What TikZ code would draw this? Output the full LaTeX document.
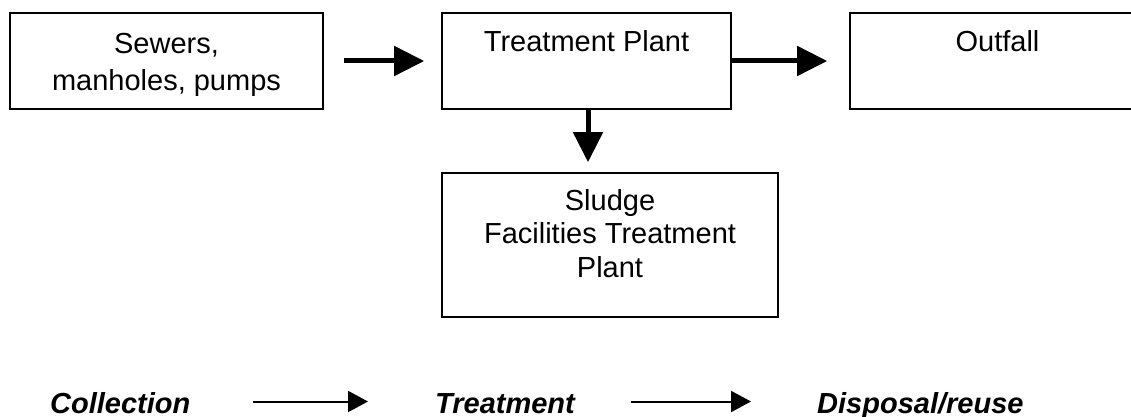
\documentclass[tikz,border=0pt]{standalone}
\usepackage{fontspec}
\setmainfont{Liberation Sans}
\usetikzlibrary{arrows.meta}
\tikzset{
  box/.style={draw=black, line width=1.6pt, inner sep=0pt, font=\fontsize{29}{34}\selectfont},
  bigarrow/.style={line width=5pt, -{Triangle[length=30pt,width=29pt]}},
  smallarrow/.style={line width=2pt, -{Triangle[length=20pt,width=21pt]}},
  stage/.style={inner sep=0pt, anchor=base west, text height=23pt, text depth=0pt,
    font=\fontsize{29}{34}\selectfont\bfseries\itshape}
}
\begin{document}
\begin{tikzpicture}[x=1pt, y=-1pt]
\useasboundingbox (0,0) rectangle (1131,417);
\node[box, minimum width=313pt, minimum height=96pt, text height=21pt, text depth=35pt] (b1) at (166.5,61)
  {\fontsize{29}{37}\selectfont\begin{tabular}[t]{@{}c@{}}Sewers,\\manholes, pumps\end{tabular}};
\node[box, minimum width=289pt, minimum height=96pt, text height=21pt, text depth=39pt] (b2) at (586.5,61) {Treatment Plant};
\node[box, minimum width=295pt, minimum height=96pt, text height=21pt, text depth=39pt] (b3) at (997.5,61) {Outfall};
\node[box, minimum width=336pt, minimum height=144pt, text height=21pt, text depth=91pt] (b4) at (610,245)
  {\fontsize{29}{33.5}\selectfont\begin{tabular}[t]{@{}c@{}}Sludge\\Facilities Treatment\\Plant\end{tabular}};
\draw[bigarrow, shorten <=20pt, shorten >=17pt] (b1.east) -- (b2.west);
\draw[bigarrow, shorten >=22pt] (b2.east) -- (b3.west);
\coordinate (dtop) at ([xshift=1.5pt]b2.south);
\draw[bigarrow, shorten >=10pt] (dtop) -- (dtop |- b4.north);
\node[stage] (s1) at (50,413) {Collection};
\node[stage] (s2) at (435,413) {Treatment};
\node[stage] (s3) at (817,413) {Disposal/reuse};
\draw[smallarrow, shorten <=62pt, shorten >=67pt] (s1.east) -- (s2.west);
\draw[smallarrow, shorten <=56pt, shorten >=66pt] (s2.east) -- (s3.west);
\end{tikzpicture}
\end{document}
